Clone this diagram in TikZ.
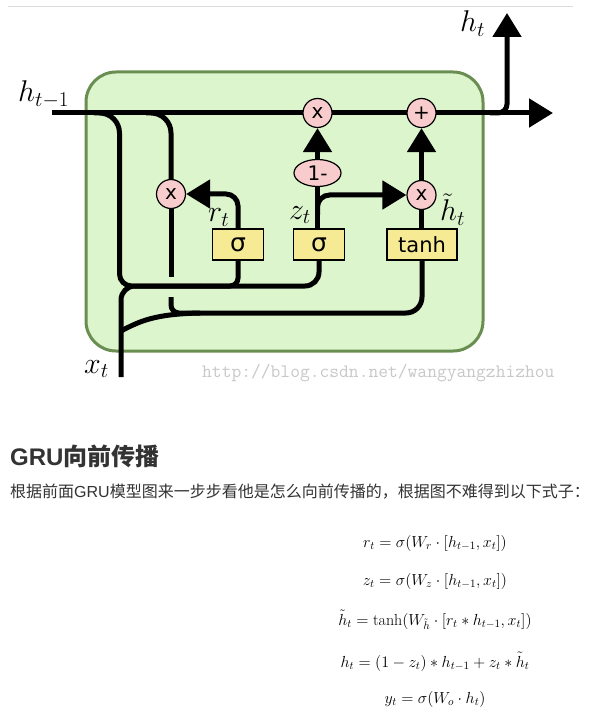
\RequirePackage{fix-cm}
\documentclass[tikz,border=0pt]{standalone}
\usepackage{fontspec}
\newfontfamily\arial{Liberation Sans}
\newfontfamily\cjk{Noto Sans CJK SC}
\newfontfamily\dejavu{DejaVu Sans}
\usetikzlibrary{arrows.meta,shapes.geometric}
\definecolor{boxgreen}{RGB}{220,245,205}
\definecolor{boxborder}{RGB}{106,142,82}
\definecolor{gatepink}{RGB}{248,204,204}
\definecolor{layeryellow}{RGB}{246,234,148}
\definecolor{rulegray}{RGB}{221,221,221}
\definecolor{textdark}{RGB}{51,51,51}
\definecolor{wmgray}{RGB}{200,200,200}
\pgfdeclarelayer{back}
\pgfdeclarelayer{wires}
\pgfsetlayers{back,wires,main}
\tikzset{
  flow/.style={line width=5pt, black},
  arr/.style={flow, -{Triangle[length=24pt,width=28pt]}},
  op/.style={circle, draw, line width=1.2pt, fill=gatepink, minimum size=29pt, inner sep=0pt, font=\dejavu\fontsize{20}{20}\selectfont},
  layer/.style={rectangle, draw, line width=1.2pt, fill=layeryellow, minimum height=31pt, inner sep=0pt},
  lbl/.style={inner sep=0pt, anchor=base west, font=\fontsize{30}{30}\selectfont},
  eq/.style={inner sep=0pt, anchor=base, text=black, font=\fontsize{16}{16}\selectfont},
  cell/.style={rectangle, rounded corners=30pt, draw=boxborder, line width=3pt, fill=boxgreen, minimum width=397pt, minimum height=279pt, inner sep=0pt}
}
\begin{document}
\begin{tikzpicture}[x=1pt,y=-1pt]
\useasboundingbox (0,0) rectangle (607,719);

\begin{pgfonlayer}{back}
\fill[white] (0,0) rectangle (607,719);
\draw[rulegray, line width=1pt] (8,7) -- (573,7);
\node[cell] (cellbox) at (284.5,211.5) {};
\end{pgfonlayer}

% operation nodes
\node[op] (mul1) at (317.5,113) {x};
\node[op] (add) at (421.5,113) {+};
\node[op] (mulr) at (171,194) {x};
\node[op] (mulz) at (421.5,195) {x};
\node[ellipse, draw, line width=1.2pt, fill=gatepink, minimum width=47pt, minimum height=27pt, inner sep=0pt, font=\dejavu\fontsize{20}{20}\selectfont] (oneminus) at (317.5,173) {1-};
\node[layer, minimum width=51pt, font=\dejavu\fontsize{25}{25}\selectfont] (sigr) at (238,244.5) {σ};
\node[layer, minimum width=51pt, font=\dejavu\fontsize{25}{25}\selectfont] (sigz) at (319,244.5) {σ};
\node[layer, minimum width=70pt, font=\dejavu\fontsize{21}{21}\selectfont] (tanh) at (422,244.5) {tanh};

% coordinates
\coordinate (hin) at (52,113);
\coordinate (hout) at (553,113);
\coordinate (hsplit) at (490,113);
\coordinate (htop) at (507,13);
\coordinate (xin) at (121,377);
\coordinate (xmid) at (121,331);
\coordinate (b1) at (94,113);
\coordinate (b1low) at (119.5,200);
\coordinate (b2) at (146,113);
\coordinate (cat) at (200,286);
\coordinate (gapa) at (171,277);
\coordinate (gapb) at (171,297);
\coordinate (cat2) at (200,313);
\coordinate (zsplit) at (317.5,215);

\begin{pgfonlayer}{wires}
\draw[arr] (hin) -- (hout);
\draw[arr, rounded corners=9pt] (hsplit) -| (htop);
% h_{t-1} branch 1 to the gates
\draw[flow, rounded corners=20pt] (b1) -| (b1low);
\draw[flow, rounded corners=12pt] (b1low) |- (cat);
\draw[flow, rounded corners=14pt] (cat) -| (sigz.south);
\draw[flow, rounded corners=8pt] (sigr.south) |- (cat);
% x_t
\draw[flow, rounded corners=14pt] (xin) |- (cat);
\draw[flow] (xmid) .. controls (140,321) and (155,314) .. (cat2);
% h_{t-1} branch 2 through reset
\draw[flow, rounded corners=20pt] (b2) -| (mulr.north);
\draw[flow] (mulr.south) -- (gapa);
\draw[flow, rounded corners=8pt] (gapb) |- (cat2);
\draw[flow, rounded corners=16pt] (cat2) -| (tanh.south);
% reset gate
\draw[arr, rounded corners=12pt] (sigr.north) |- (mulr.east);
% update gate
\draw[flow] (sigz.north -| oneminus) -- (oneminus.south);
\draw[arr] (oneminus.north) -- (mul1.south);
\draw[arr, rounded corners=12pt] (zsplit) |- (mulz.west);
% candidate
\draw[flow] (tanh.north -| mulz) -- (mulz.south);
\draw[arr] (mulz.north) -- (add.south);
\end{pgfonlayer}

% labels
\node[lbl] (lht1) at (18,102) {$h_{t-1}$};
\node[lbl] (lht) at (460,32) {$h_t$};
\node[lbl] (lrt) at (208,222) {$r_t$};
\node[lbl] (lzt) at (289,219) {$z_t$};
\node[lbl] (lhtt) at (440,221) {$\tilde{h}_t$};
\node[lbl] (lxt) at (84,373) {$x_t$};

\node[anchor=base west, inner sep=0pt, text=wmgray, font=\ttfamily\fontsize{19}{19}\selectfont] (wm) at (202,377) {http://blog.csdn.net/wangyangzhizhou};

% text
\node[anchor=base west, inner sep=0pt, text=textdark, font=\fontsize{24}{24}\selectfont\bfseries] (head) at (10,465) {{\arial GRU}{\cjk 向前传播}};
\node[anchor=base west, inner sep=0pt, text=textdark, font=\fontsize{16}{16}\selectfont] (body) at (10,497) {{\cjk 根据前面}{\arial GRU}{\cjk 模型图来一步步看他是怎么向前传播的，根据图不难得到以下式子：}};

% equations
\node[eq] (e1) at (435,547) {$r_t = \sigma(W_r\cdot[h_{t-1},x_t])$};
\node[eq] (e2) at (435,585) {$z_t = \sigma(W_z\cdot[h_{t-1},x_t])$};
\node[eq] (e3) at (435,625) {$\tilde{h}_t = \tanh(W_{\tilde{h}}\cdot[r_t * h_{t-1},x_t])$};
\node[eq] (e4) at (435,667) {$h_t = (1-z_t) * h_{t-1} + z_t * \tilde{h}_t$};
\node[eq] (e5) at (435,703) {$y_t = \sigma(W_o\cdot h_t)$};
\end{tikzpicture}
\end{document}
